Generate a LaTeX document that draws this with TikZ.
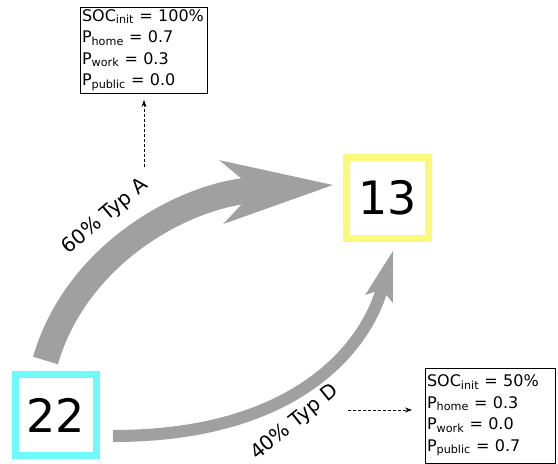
\documentclass[tikz,border=0pt]{standalone}
\usepackage{fontspec}
\setmainfont{DejaVu Sans}
\usetikzlibrary{arrows.meta,calc,positioning}
\definecolor{StartCyan}{RGB}{110,250,250}
\definecolor{GoalYellow}{RGB}{250,250,120}
\definecolor{FlowGray}{RGB}{160,160,160}
\newcommand{\infofont}{\fontsize{16}{21.5}\selectfont}

\begin{document}
\begin{tikzpicture}[x=1pt,y=1pt,
    station/.style={draw,line width=7pt,minimum size=81pt,inner sep=0pt,
      outer sep=0pt,font=\fontsize{46}{50}\selectfont},
    infobox/.style={draw,line width=0.8pt,inner xsep=2pt,inner ysep=2pt,
      outer sep=0pt,align=left,font=\infofont},
    pointer/.style={densely dashed,line width=0.8pt,-{Stealth[length=7pt,width=5pt]}},
    flowlabel/.style={font=\fontsize{20}{22}\selectfont,inner sep=0pt}]
  \useasboundingbox (0,0) rectangle (558,-464);
  \node[station,draw=StartCyan] (n22) at (56,-415) {22};
  \node[station,draw=GoalYellow,minimum width=82pt] (n13) at (387.5,-198) {13};
  \node[infobox,text width=123pt,minimum height=86pt] (infoA) at (143.5,-50)
    {SOC\textsubscript{init} = 100\%\\P\textsubscript{home} = 0.7\\
     P\textsubscript{work} = 0.3\\P\textsubscript{public} = 0.0};
  \node[infobox,text width=126pt,minimum height=95pt] (infoD) at (490,-415.5)
    {SOC\textsubscript{init} = 50\%\\P\textsubscript{home} = 0.3\\
     P\textsubscript{work} = 0.0\\P\textsubscript{public} = 0.7};
  % the two flows from 22 to 13
  \draw[FlowGray,line width=26pt,
    -{Stealth[length=112pt,width=64pt,inset=34pt,line width=0pt]}]
    ($(n22.north)+(-10.5,14)$) .. controls +(30.5,105.5) and +(-150,-9.5)
    .. ($(n13.west)+(-13.5,13)$);
  \draw[FlowGray,line width=12pt,
    -{Stealth[length=50pt,width=29pt,inset=10pt,line width=0pt]}]
    ($(n22.east)+(16.5,-21)$) .. controls +(187,0) and +(-27,-93)
    .. ($(n13.south)+(5.5,-12.5)$);
  \node[flowlabel,rotate=40] (labA) at (105.5,-216.5) {60\% Typ A};
  \node[flowlabel,rotate=39] (labD) at (295,-422.5) {40\% Typ D};
  % pointers to the type boxes
  \coordinate (tagA) at ($(infoA.south)+(0.5,-74)$);
  \coordinate (tagD) at (348,-410);
  \draw[pointer,shorten >=7pt] (tagA) -- (tagA |- infoA.south);
  \draw[pointer,shorten >=13pt] (tagD) -- (tagD -| infoD.west);
\end{tikzpicture}
\end{document}
